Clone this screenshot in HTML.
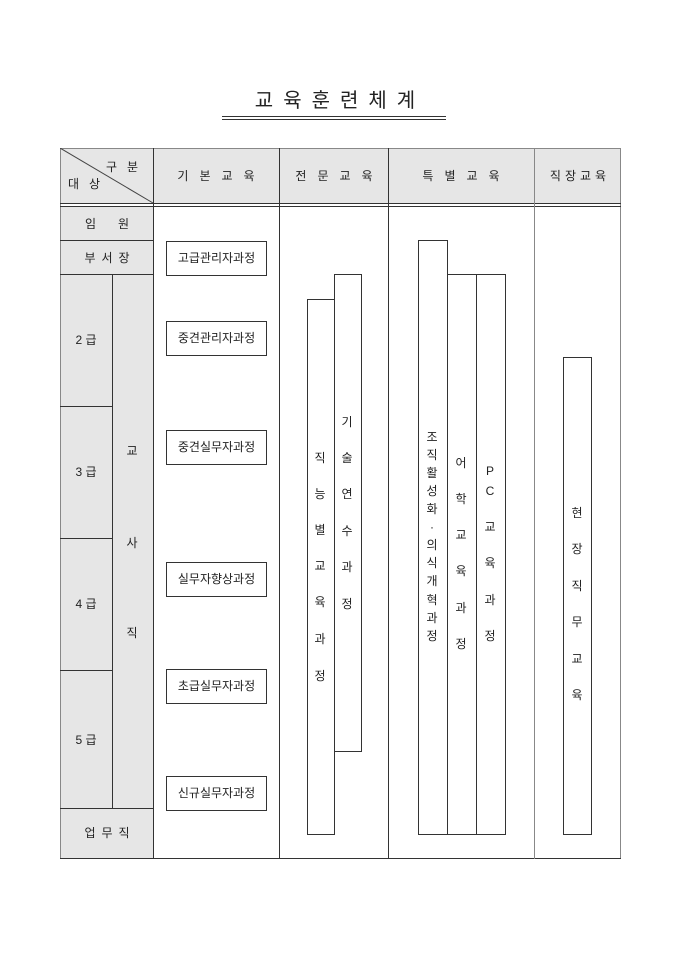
<!DOCTYPE html>
<html><head><meta charset="utf-8"><style>
body{margin:0;width:680px;height:962px;background:#fff;position:relative;font-family:"Liberation Sans","Noto Sans CJK KR","NanumGothic",sans-serif;color:#222;overflow:hidden}
div{position:absolute;box-sizing:border-box}
.g{background:#e6e6e6}
.l{background:#333}
.lg{background:#888}
.t{font-size:12px;line-height:14px;text-align:center;white-space:nowrap;transform:translate(-50%,-50%)}
.box{border:1px solid #333;background:#fff;font-size:12px;text-align:center;line-height:32px}
.bar{border:1px solid #333;background:#fff}
</style></head><body>
<div class="t" style="left:335px;top:101px;font-size:20px;line-height:24px;letter-spacing:10px;padding-left:10px">교육훈련체계</div>
<div class="l" style="left:222px;top:116px;width:224px;height:1px"></div>
<div class="l" style="left:222px;top:119px;width:224px;height:1px"></div>

<div class="g" style="left:60px;top:148px;width:561px;height:56px"></div>
<div class="g" style="left:60px;top:207px;width:93px;height:651px"></div>

<div class="lg" style="left:60px;top:148px;width:1px;height:711px"></div>
<div class="lg" style="left:620px;top:148px;width:1px;height:711px"></div>
<div class="lg" style="left:60px;top:148px;width:561px;height:1px"></div>
<div class="l" style="left:60px;top:203px;width:561px;height:1px"></div>
<div class="l" style="left:60px;top:206px;width:561px;height:1px"></div>
<div class="l" style="left:60px;top:858px;width:561px;height:1px"></div>
<div class="l" style="left:153px;top:148px;width:1px;height:711px"></div>
<div class="l" style="left:279px;top:148px;width:1px;height:711px"></div>
<div class="l" style="left:388px;top:148px;width:1px;height:711px"></div>
<div class="lg" style="left:534px;top:148px;width:1px;height:711px"></div>
<svg style="position:absolute;left:60px;top:148px" width="94" height="56"><line x1="0" y1="0" x2="93" y2="55" stroke="#444" stroke-width="1"/></svg>

<div class="l" style="left:60px;top:240px;width:93px;height:1px"></div>
<div class="l" style="left:60px;top:274px;width:93px;height:1px"></div>
<div class="l" style="left:60px;top:406px;width:52px;height:1px"></div>
<div class="l" style="left:60px;top:538px;width:52px;height:1px"></div>
<div class="l" style="left:60px;top:670px;width:52px;height:1px"></div>
<div class="l" style="left:60px;top:808px;width:93px;height:1px"></div>
<div class="l" style="left:112px;top:274px;width:1px;height:534px"></div>

<div class="t" style="left:122px;top:167px;letter-spacing:10px;padding-left:10px">구분</div>
<div class="t" style="left:84px;top:184px;letter-spacing:10px;padding-left:10px">대상</div>
<div class="t" style="left:216px;top:176px;letter-spacing:11px;padding-left:11px">기본교육</div>
<div class="t" style="left:334px;top:176px;letter-spacing:11px;padding-left:11px">전문교육</div>
<div class="t" style="left:461px;top:176px;letter-spacing:11px;padding-left:11px">특별교육</div>
<div class="t" style="left:578px;top:176px;letter-spacing:4px;padding-left:4px">직장교육</div>

<div class="t" style="left:107px;top:224px;letter-spacing:22px;padding-left:22px">임원</div>
<div class="t" style="left:107px;top:258px;letter-spacing:6px;padding-left:6px">부서장</div>
<div class="t" style="left:86px;top:340px">2 급</div>
<div class="t" style="left:86px;top:472px">3 급</div>
<div class="t" style="left:86px;top:604px">4 급</div>
<div class="t" style="left:86px;top:740px">5 급</div>
<div class="t" style="left:107px;top:833px;letter-spacing:6px;padding-left:6px">업무직</div>
<div class="t" style="left:132px;top:451px">교</div>
<div class="t" style="left:132px;top:543px">사</div>
<div class="t" style="left:132px;top:633px">직</div>

<div class="box" style="left:166px;top:241px;width:101px;height:35px">고급관리자과정</div>
<div class="box" style="left:166px;top:321px;width:101px;height:35px">중견관리자과정</div>
<div class="box" style="left:166px;top:430px;width:101px;height:35px">중견실무자과정</div>
<div class="box" style="left:166px;top:562px;width:101px;height:35px">실무자향상과정</div>
<div class="box" style="left:166px;top:669px;width:101px;height:35px">초급실무자과정</div>
<div class="box" style="left:166px;top:776px;width:101px;height:35px">신규실무자과정</div>

<div class="bar" style="left:307px;top:299px;width:28px;height:536px"></div>
<div class="bar" style="left:334px;top:274px;width:28px;height:478px"></div>
<div class="bar" style="left:418px;top:240px;width:30px;height:595px"></div>
<div class="bar" style="left:447px;top:274px;width:30px;height:561px"></div>
<div class="bar" style="left:476px;top:274px;width:30px;height:561px"></div>
<div class="bar" style="left:563px;top:357px;width:29px;height:478px"></div>

<div class="t" style="left:320px;top:458px">직</div>
<div class="t" style="left:320px;top:494px">능</div>
<div class="t" style="left:320px;top:530px">별</div>
<div class="t" style="left:320px;top:566px">교</div>
<div class="t" style="left:320px;top:602px">육</div>
<div class="t" style="left:320px;top:639px">과</div>
<div class="t" style="left:320px;top:676px">정</div>
<div class="t" style="left:347px;top:422px">기</div>
<div class="t" style="left:347px;top:458px">술</div>
<div class="t" style="left:347px;top:494px">연</div>
<div class="t" style="left:347px;top:531px">수</div>
<div class="t" style="left:347px;top:567px">과</div>
<div class="t" style="left:347px;top:604px">정</div>
<div class="t" style="left:432px;top:437px">조</div>
<div class="t" style="left:432px;top:455px">직</div>
<div class="t" style="left:432px;top:473px">활</div>
<div class="t" style="left:432px;top:491px">성</div>
<div class="t" style="left:432px;top:509px">화</div>
<div class="t" style="left:432px;top:527px">·</div>
<div class="t" style="left:432px;top:545px">의</div>
<div class="t" style="left:432px;top:563px">식</div>
<div class="t" style="left:432px;top:581px">개</div>
<div class="t" style="left:432px;top:600px">혁</div>
<div class="t" style="left:432px;top:618px">과</div>
<div class="t" style="left:432px;top:636px">정</div>
<div class="t" style="left:461px;top:463px">어</div>
<div class="t" style="left:461px;top:499px">학</div>
<div class="t" style="left:461px;top:535px">교</div>
<div class="t" style="left:461px;top:571px">육</div>
<div class="t" style="left:461px;top:608px">과</div>
<div class="t" style="left:461px;top:644px">정</div>
<div class="t" style="left:490px;top:471px">P</div>
<div class="t" style="left:490px;top:491px">C</div>
<div class="t" style="left:490px;top:527px">교</div>
<div class="t" style="left:490px;top:563px">육</div>
<div class="t" style="left:490px;top:600px">과</div>
<div class="t" style="left:490px;top:636px">정</div>
<div class="t" style="left:577px;top:513px">현</div>
<div class="t" style="left:577px;top:549px">장</div>
<div class="t" style="left:577px;top:586px">직</div>
<div class="t" style="left:577px;top:622px">무</div>
<div class="t" style="left:577px;top:659px">교</div>
<div class="t" style="left:577px;top:695px">육</div>
</body></html>
